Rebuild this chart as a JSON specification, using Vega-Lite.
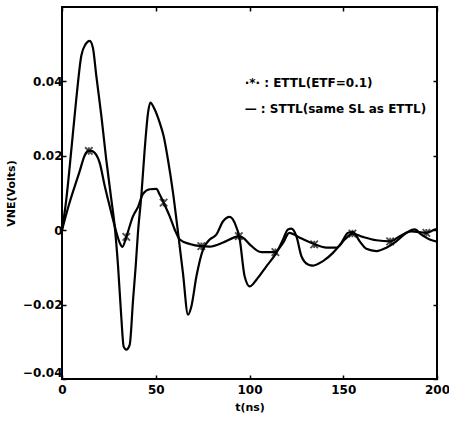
{
  "$schema": "https://vega.github.io/schema/vega-lite/v6.json",
  "autosize": {"type": "none"},
  "padding": {"left": 62, "top": 7, "right": 12, "bottom": 42},
  "width": 375,
  "height": 372,
  "background": "white",
  "config": {
    "view": {"stroke": "black", "strokeWidth": 2},
    "font": "DejaVu Sans",
    "axis": {
      "labelFont": "DejaVu Sans", "labelFontWeight": "bold", "labelFontSize": 12, "labelColor": "black",
      "titleFont": "DejaVu Sans", "titleFontWeight": "bold", "titleFontSize": 11, "titleColor": "black",
      "domain": false, "grid": false, "tickColor": "black", "tickSize": -4, "tickWidth": 1.5,
      "labelFlush": false, "labelOverlap": false
    }
  },
  "datasets": {
    "curves": [
      {"series": "STTL", "t": 0, "v": 0},
      {"series": "STTL", "t": 2.3, "v": 0.0083},
      {"series": "STTL", "t": 5, "v": 0.0217},
      {"series": "STTL", "t": 7.6, "v": 0.0352},
      {"series": "STTL", "t": 10.3, "v": 0.0469},
      {"series": "STTL", "t": 12.6, "v": 0.05},
      {"series": "STTL", "t": 14.8, "v": 0.0509},
      {"series": "STTL", "t": 16.5, "v": 0.049},
      {"series": "STTL", "t": 18.3, "v": 0.0415},
      {"series": "STTL", "t": 21, "v": 0.0307},
      {"series": "STTL", "t": 23.6, "v": 0.019},
      {"series": "STTL", "t": 26.3, "v": 0.0083},
      {"series": "STTL", "t": 28.1, "v": 0.0011},
      {"series": "STTL", "t": 29.9, "v": -0.0097},
      {"series": "STTL", "t": 31.6, "v": -0.0232},
      {"series": "STTL", "t": 32.9, "v": -0.0313},
      {"series": "STTL", "t": 34.3, "v": -0.0321},
      {"series": "STTL", "t": 36.1, "v": -0.0308},
      {"series": "STTL", "t": 37.9, "v": -0.0187},
      {"series": "STTL", "t": 39.3, "v": -0.0097},
      {"series": "STTL", "t": 40.5, "v": -0.0007},
      {"series": "STTL", "t": 42.3, "v": 0.0092},
      {"series": "STTL", "t": 44.1, "v": 0.0217},
      {"series": "STTL", "t": 45.9, "v": 0.0316},
      {"series": "STTL", "t": 47.1, "v": 0.0343},
      {"series": "STTL", "t": 49.4, "v": 0.0325},
      {"series": "STTL", "t": 52.1, "v": 0.0289},
      {"series": "STTL", "t": 54.2, "v": 0.0253},
      {"series": "STTL", "t": 56.5, "v": 0.019},
      {"series": "STTL", "t": 59.2, "v": 0.0101},
      {"series": "STTL", "t": 61.9, "v": -0.0007},
      {"series": "STTL", "t": 64.5, "v": -0.0115},
      {"series": "STTL", "t": 67.2, "v": -0.0227},
      {"series": "STTL", "t": 69, "v": -0.0205},
      {"series": "STTL", "t": 71.7, "v": -0.0124},
      {"series": "STTL", "t": 75.2, "v": -0.0052},
      {"series": "STTL", "t": 78.8, "v": -0.0025},
      {"series": "STTL", "t": 82.3, "v": -0.0012},
      {"series": "STTL", "t": 85.9, "v": 0.0024},
      {"series": "STTL", "t": 89.4, "v": 0.0036},
      {"series": "STTL", "t": 92.1, "v": 0.002},
      {"series": "STTL", "t": 94.8, "v": -0.0025},
      {"series": "STTL", "t": 97.4, "v": -0.0124},
      {"series": "STTL", "t": 100.1, "v": -0.0151},
      {"series": "STTL", "t": 103.7, "v": -0.0133},
      {"series": "STTL", "t": 109, "v": -0.0097},
      {"series": "STTL", "t": 114.3, "v": -0.0061},
      {"series": "STTL", "t": 117.9, "v": -0.0025},
      {"series": "STTL", "t": 120.5, "v": 0.0002},
      {"series": "STTL", "t": 122.3, "v": 0.0004},
      {"series": "STTL", "t": 125, "v": -0.0016},
      {"series": "STTL", "t": 127.7, "v": -0.007},
      {"series": "STTL", "t": 131.2, "v": -0.0092},
      {"series": "STTL", "t": 133.9, "v": -0.0095},
      {"series": "STTL", "t": 139.2, "v": -0.0083},
      {"series": "STTL", "t": 144.5, "v": -0.0061},
      {"series": "STTL", "t": 149, "v": -0.0034},
      {"series": "STTL", "t": 152.6, "v": -0.0007},
      {"series": "STTL", "t": 155.2, "v": -0.0005},
      {"series": "STTL", "t": 158.8, "v": -0.003},
      {"series": "STTL", "t": 162.3, "v": -0.005},
      {"series": "STTL", "t": 167.7, "v": -0.0056},
      {"series": "STTL", "t": 173, "v": -0.0047},
      {"series": "STTL", "t": 178.3, "v": -0.003},
      {"series": "STTL", "t": 183.7, "v": -0.0007},
      {"series": "STTL", "t": 188.1, "v": 0.0002},
      {"series": "STTL", "t": 191.7, "v": -0.0012},
      {"series": "STTL", "t": 196.1, "v": -0.0025},
      {"series": "STTL", "t": 200, "v": -0.0031},
      {"series": "ETTL", "t": 0, "v": 0},
      {"series": "ETTL", "t": 3.5, "v": 0.0065},
      {"series": "ETTL", "t": 9.4, "v": 0.0158},
      {"series": "ETTL", "t": 12.1, "v": 0.0201},
      {"series": "ETTL", "t": 13.9, "v": 0.0213},
      {"series": "ETTL", "t": 15.5, "v": 0.0213},
      {"series": "ETTL", "t": 17.4, "v": 0.0208},
      {"series": "ETTL", "t": 20.1, "v": 0.0181},
      {"series": "ETTL", "t": 22.8, "v": 0.0119},
      {"series": "ETTL", "t": 25.4, "v": 0.0065},
      {"series": "ETTL", "t": 28.1, "v": 0.0011},
      {"series": "ETTL", "t": 30.8, "v": -0.0034},
      {"series": "ETTL", "t": 32.2, "v": -0.0045},
      {"series": "ETTL", "t": 34.3, "v": -0.0018},
      {"series": "ETTL", "t": 37.9, "v": 0.0038},
      {"series": "ETTL", "t": 40.5, "v": 0.0062},
      {"series": "ETTL", "t": 43.2, "v": 0.0098},
      {"series": "ETTL", "t": 46.8, "v": 0.011},
      {"series": "ETTL", "t": 50.3, "v": 0.0111},
      {"series": "ETTL", "t": 52.1, "v": 0.0096},
      {"series": "ETTL", "t": 54.2, "v": 0.0074},
      {"series": "ETTL", "t": 57.4, "v": 0.0038},
      {"series": "ETTL", "t": 60.1, "v": 0.0002},
      {"series": "ETTL", "t": 62.8, "v": -0.0025},
      {"series": "ETTL", "t": 68.1, "v": -0.0037},
      {"series": "ETTL", "t": 74.3, "v": -0.0043},
      {"series": "ETTL", "t": 78.8, "v": -0.0044},
      {"series": "ETTL", "t": 85.9, "v": -0.0033},
      {"series": "ETTL", "t": 91.6, "v": -0.002},
      {"series": "ETTL", "t": 94.3, "v": -0.0016},
      {"series": "ETTL", "t": 97, "v": -0.0022},
      {"series": "ETTL", "t": 100.1, "v": -0.0038},
      {"series": "ETTL", "t": 106.3, "v": -0.0059},
      {"series": "ETTL", "t": 113.4, "v": -0.0059},
      {"series": "ETTL", "t": 117.9, "v": -0.0034},
      {"series": "ETTL", "t": 121.2, "v": -0.0007},
      {"series": "ETTL", "t": 126.8, "v": -0.002},
      {"series": "ETTL", "t": 134.8, "v": -0.0038},
      {"series": "ETTL", "t": 141, "v": -0.0047},
      {"series": "ETTL", "t": 146.4, "v": -0.0047},
      {"series": "ETTL", "t": 150.8, "v": -0.0025},
      {"series": "ETTL", "t": 154.9, "v": -0.0009},
      {"series": "ETTL", "t": 160.5, "v": -0.0018},
      {"series": "ETTL", "t": 167.7, "v": -0.0027},
      {"series": "ETTL", "t": 175.3, "v": -0.003},
      {"series": "ETTL", "t": 180.1, "v": -0.0016},
      {"series": "ETTL", "t": 186.3, "v": -0.0003},
      {"series": "ETTL", "t": 194.3, "v": -0.0007},
      {"series": "ETTL", "t": 198.8, "v": 0.0002},
      {"series": "ETTL", "t": 200, "v": 0.0004}
    ],
    "markers": [
      {"t": 14.3, "v": 0.0213},
      {"t": 34.3, "v": -0.0018},
      {"t": 54.2, "v": 0.0074},
      {"t": 74.3, "v": -0.0043},
      {"t": 94.3, "v": -0.0016},
      {"t": 113.8, "v": -0.0059},
      {"t": 134.5, "v": -0.0038},
      {"t": 154.9, "v": -0.0009},
      {"t": 175, "v": -0.003},
      {"t": 194.3, "v": -0.0007}
    ],
    "legend": [
      {"label": "·*· : ETTL(ETF=0.1)", "row": 1},
      {"label": "— : STTL(same SL as ETTL)", "row": 2}
    ]
  },
  "layer": [
    {
      "data": {"name": "curves"},
      "mark": {"type": "line", "color": "black", "strokeWidth": 2.2, "interpolate": "monotone", "clip": true},
      "encoding": {
        "x": {"field": "t", "type": "quantitative", "scale": {"domain": [0, 200], "nice": false},
              "axis": {"values": [0, 50, 100, 150, 200], "title": "t(ns)", "labelPadding": 9, "titlePadding": 6}},
        "y": {"field": "v", "type": "quantitative", "scale": {"domain": [-0.04, 0.06], "nice": false, "zero": false},
              "axis": {"values": [-0.04, -0.02, 0, 0.02, 0.04], "title": "VNE(Volts)", "labelPadding": 4, "titlePadding": 6, "labelFlush": true,
                       "labelExpr": "abs(datum.value) < 1e-9 ? '0' : format(datum.value, '.2f')"}},
        "detail": {"field": "series"}
      }
    },
    {
      "data": {"name": "markers"},
      "mark": {"type": "point", "shape": "M-1,-1L1,1M-1,1L1,-1M0,-1L0,1", "filled": false, "stroke": "black", "strokeWidth": 1.8, "size": 55},
      "encoding": {
        "x": {"field": "t", "type": "quantitative", "axis": {"orient": "top", "values": [0, 50, 100, 150, 200], "labels": false, "title": null}},
        "y": {"field": "v", "type": "quantitative", "axis": {"orient": "right", "values": [-0.04, -0.02, 0, 0.02, 0.04], "labels": false, "title": null}}
      }
    },
    {
      "data": {"name": "legend"},
      "transform": [{"filter": "datum.row == 1"}],
      "mark": {"type": "text", "align": "left", "baseline": "middle", "font": "DejaVu Sans", "fontWeight": "bold", "fontSize": 12, "color": "black"},
      "encoding": {
        "x": {"datum": 97.4, "type": "quantitative", "axis": null},
        "y": {"datum": 0.0397, "type": "quantitative", "axis": null},
        "text": {"field": "label"}
      }
    },
    {
      "data": {"name": "legend"},
      "transform": [{"filter": "datum.row == 2"}],
      "mark": {"type": "text", "align": "left", "baseline": "middle", "font": "DejaVu Sans", "fontWeight": "bold", "fontSize": 12, "color": "black"},
      "encoding": {
        "x": {"datum": 97.4, "type": "quantitative", "axis": null},
        "y": {"datum": 0.0325, "type": "quantitative", "axis": null},
        "text": {"field": "label"}
      }
    }
  ],
  "resolve": {"axis": {"x": "independent", "y": "independent"}}
}
